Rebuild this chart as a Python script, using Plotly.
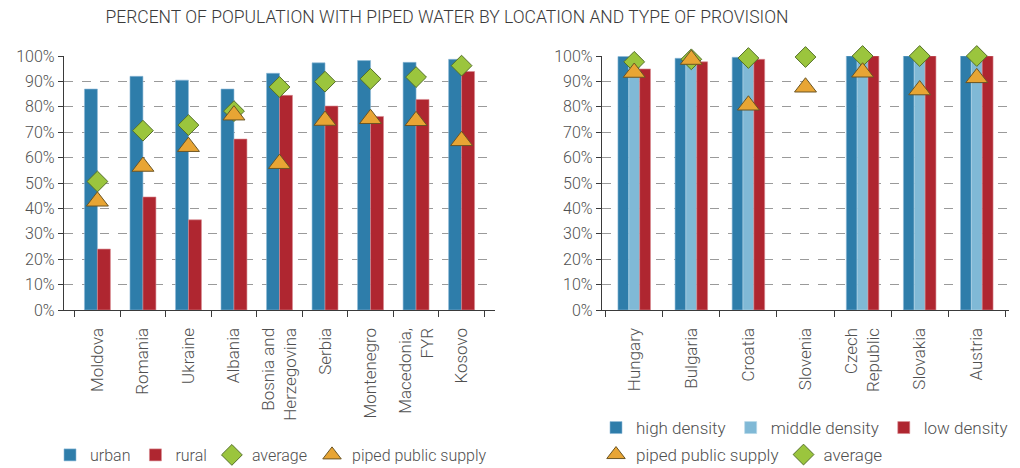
import plotly.graph_objects as go

# ---- data -------------------------------------------------------------
left_countries = ["Moldova", "Romania", "Ukraine", "Albania", "Bosnia and<br>Herzegovina",
                  "Serbia", "Montenegro", "Macedonia,<br>FYR", "Kosovo"]
urban = [87, 92, 90.5, 87, 93.2, 97.3, 98.2, 97.5, 98.7]
rural = [24, 44.5, 35.5, 67.3, 84.5, 80.3, 76.2, 82.9, 93.9]
left_average = [50.6, 70.6, 72.8, 78.3, 87.8, 89.9, 91.0, 91.7, 96.2]
left_piped = [42.8, 56.5, 64.3, 76.7, 57.6, 74.6, 75.3, 74.5, 66.6]

right_countries = ["Hungary", "Bulgaria", "Croatia", "Slovenia", "Czech<br>Republic",
                   "Slovakia", "Austria"]
high_density = [99.8, 99.1, 99.5, None, 100, 100, 100]
middle_density = [99.5, 99.0, 99.4, None, 100, 100, 100]
low_density = [94.9, 97.7, 98.7, None, 100, 100, 100]
right_piped = [93.5, 98.6, 80.6, 87.7, 93.6, 86.6, 91.4]
right_average = [97.7, 98.7, 99.2, 99.6, 100, 100, 100]

y_ticks = list(range(0, 101, 10))
y_tick_labels = [f"{v}%" for v in y_ticks]

# ---- styling ----------------------------------------------------------
BLUE = "#2E7DAA"
LIGHT_BLUE = "#80B9D6"
RED = "#AF2630"
GREEN = "#9BC53D"
ORANGE = "#E8A534"
FONT = "Roboto"
TEXT = "#505050"

diamond = dict(symbol="diamond", size=16, color=GREEN,
               line=dict(color="#55702A", width=1))
triangle = dict(symbol="triangle-up", size=19, color=ORANGE,
                line=dict(color="#6B5524", width=1))

fig = go.Figure()

# left panel: urban / rural
fig.add_trace(go.Bar(x=left_countries, y=urban, name="urban", marker_color=BLUE,
                     marker_line=dict(color="#8FBBD8", width=0.6),
                     xaxis="x", yaxis="y", legend="legend"))
fig.add_trace(go.Bar(x=left_countries, y=rural, name="rural", marker_color=RED,
                     marker_line=dict(color="#D98A90", width=0.6),
                     xaxis="x", yaxis="y", legend="legend"))
fig.add_trace(go.Scatter(x=left_countries, y=left_average, name="average", mode="markers",
                         marker=diamond, cliponaxis=False,
                         xaxis="x", yaxis="y", legend="legend"))
fig.add_trace(go.Scatter(x=left_countries, y=left_piped, name="piped public supply",
                         mode="markers", marker=triangle, cliponaxis=False,
                         xaxis="x", yaxis="y", legend="legend"))

# right panel: density classes
fig.add_trace(go.Bar(x=right_countries, y=high_density, name="high density", marker_color=BLUE,
                     marker_line=dict(color="#8FBBD8", width=0.6),
                     xaxis="x2", yaxis="y2", legend="legend2"))
fig.add_trace(go.Bar(x=right_countries, y=middle_density, name="middle density",
                     marker_color=LIGHT_BLUE, marker_line=dict(color="#B5D6E8", width=0.6),
                     xaxis="x2", yaxis="y2", legend="legend2"))
fig.add_trace(go.Bar(x=right_countries, y=low_density, name="low density", marker_color=RED,
                     marker_line=dict(color="#D98A90", width=0.6),
                     xaxis="x2", yaxis="y2", legend="legend2"))
fig.add_trace(go.Scatter(x=right_countries, y=right_average, name="average", mode="markers",
                         marker=diamond, cliponaxis=False,
                         xaxis="x2", yaxis="y2", legend="legend3"))
fig.add_trace(go.Scatter(x=right_countries, y=right_piped, name="piped public supply",
                         mode="markers", marker=triangle, cliponaxis=False,
                         xaxis="x2", yaxis="y2", legend="legend3"))

W, H = 1020, 468
L, R, T, B = 64, 11, 56, 158
plot_w = W - L - R


def xdom(px0, px1):
    return [(px0 - L) / plot_w, (px1 - L) / plot_w]


xaxis_common = dict(type="category", showline=True, linecolor="#3A3A3A", linewidth=1.2,
                    ticks="outside", tickson="boundaries", ticklen=6, tickcolor="#3A3A3A",
                    tickangle=-90, ticklabelstandoff=10, automargin=False,
                    tickfont=dict(family=FONT, size=17, color=TEXT, weight=300),
                    showgrid=False, fixedrange=True)
yaxis_common = dict(range=[0, 100], tickmode="array", tickvals=y_ticks, ticktext=y_tick_labels,
                    showline=True, linecolor="#3A3A3A", linewidth=1.2, ticks="outside",
                    ticklen=5, tickcolor="#3A3A3A", showgrid=True, gridcolor="#9A9A9A",
                    griddash="dash", gridwidth=1, zeroline=False, automargin=False,
                    tickfont=dict(family=FONT, size=16, color=TEXT, weight=300))

legend_common = dict(orientation="h", xref="container", yref="container",
                     yanchor="middle", xanchor="left", bgcolor="rgba(0,0,0,0)",
                     itemclick=False, itemdoubleclick=False)
legend_font = dict(family=FONT, size=17, color=TEXT, weight=300)

fig.update_layout(
    width=W, height=H,
    margin=dict(l=L, r=R, t=T, b=B, autoexpand=False),
    paper_bgcolor="white", plot_bgcolor="white",
    barmode="group",
    title=dict(text="PERCENT OF POPULATION WITH PIPED WATER BY LOCATION AND TYPE OF PROVISION",
               x=447 / W, xanchor="center", y=1 - 17 / H, yanchor="middle",
               font=dict(family=FONT, size=17.5, color="#3A3A3A", weight=300)),
    xaxis=dict(domain=xdom(64, 495), anchor="y", **xaxis_common),
    yaxis=dict(domain=[0, 1], anchor="x", **yaxis_common),
    xaxis2=dict(domain=xdom(602, 1009), anchor="y2", **xaxis_common),
    yaxis2=dict(domain=[0, 1], anchor="x2", **yaxis_common),
    bargap=0.43,
    legend=dict(x=50 / W, y=1 - 455 / H, traceorder="normal",
                font=dict(legend_font, size=16), **legend_common),
    legend2=dict(x=596 / W, y=1 - 428 / H, traceorder="normal", font=legend_font,
                 **legend_common),
    legend3=dict(x=596 / W, y=1 - 455 / H, traceorder="reversed", font=legend_font,
                 **legend_common),
    showlegend=True,
)

fig.write_html("out.html")
